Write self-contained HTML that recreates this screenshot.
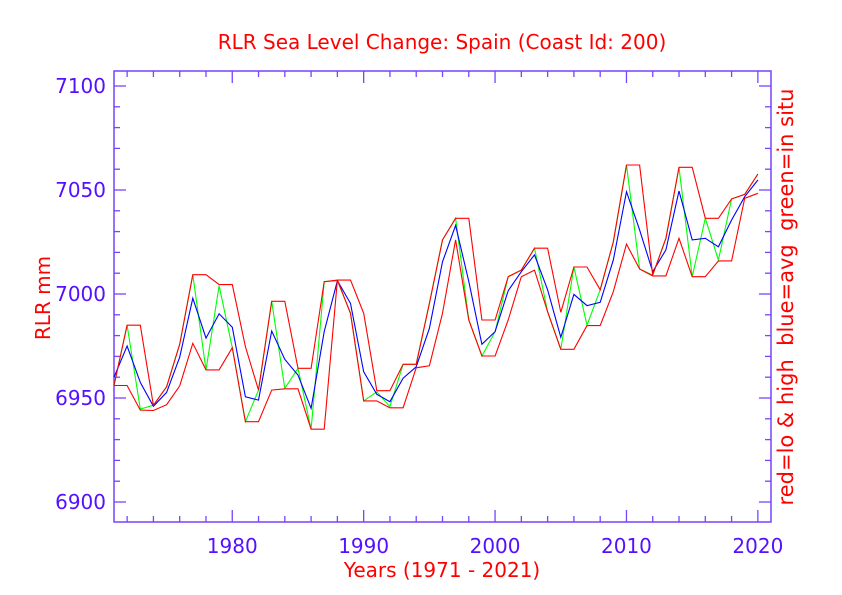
<!DOCTYPE html>
<html><head><meta charset="utf-8"><style>
html,body{margin:0;padding:0;background:#fff;}
svg{display:block;font-family:"DejaVu Sans","Liberation Sans",sans-serif;}
</style></head><body>
<svg id="chart" width="842" height="595" viewBox="0 0 842 595">
<rect x="0" y="0" width="842" height="595" fill="#fff"/>
<text x="442" y="49" text-anchor="middle" font-size="20" fill="#ff0000">RLR Sea Level Change: Spain (Coast Id: 200)</text>
<text x="442" y="577" text-anchor="middle" font-size="20" fill="#ff0000">Years (1971 - 2021)</text>
<text transform="translate(50,298) rotate(-90)" text-anchor="middle" font-size="20" fill="#ff0000">RLR mm</text>
<text transform="translate(793,297) rotate(-90)" text-anchor="middle" font-size="21" fill="#ff0000" style="white-space:pre" xml:space="preserve">red=lo &amp; high  blue=avg  green=in situ</text>
<g id="axes"></g>
<g id="series"></g>
</svg>
<script>
const years = [];
for (let y = 1971; y <= 2020; y++) years.push(y);
const highValues = [6956,6985,6985,6946.5,6955.4,6975.8,7009.3,7009.3,7004.5,7004.5,6974.7,6953.8,6996.5,6996.5,6964.3,6964.3,7005.9,7006.7,7006.7,6990.7,6953.5,6953.5,6966.2,6966.2,6995.5,7026,7036.4,7036.4,6987.5,6987.5,7008.3,7011.5,7022,7022,6991.2,7013,7013,7002,7025,7062,7062,7009.1,7026.8,7060.9,7060.9,7036.4,7036.4,7045.7,7047.9,7057.7];
const lowValues = [6956,6956,6944.2,6944,6946.8,6955.8,6976.3,6963.5,6963.5,6974.2,6938.6,6938.6,6953.8,6954.4,6954.4,6935,6935,7006.7,6990.7,6948.6,6948.6,6945.3,6945.3,6964.5,6965.5,6990.7,7026,6987.5,6970.2,6970.2,6987.5,7008.3,7011.5,6991.5,6973.4,6973.4,6984.8,6984.8,7001.1,7024,7012,7008.7,7008.7,7026.8,7008.3,7008.3,7015.9,7015.9,7046,7048.4];
const greenValues = [6956,6985,6944.7,6946.5,6955.4,6975.8,7009.3,6963.5,7004,6974.2,6938.6,6953.8,6996.5,6954.6,6964.3,6935,7005.9,7006.4,6990.7,6948.6,6953,6945.8,6966.2,6966.2,6995.5,7026,7036.4,6987.5,6970.2,6981.9,7008.3,7011.5,7022,6991.5,6973.4,7013,6985,7002,7025,7062,7012,7009.1,7026.8,7060.9,7008.3,7036.4,7016.3,7045.7,7047.9,7057.7];
const avgValues = [6960,6975,6957.5,6946,6952.7,6969.6,6998,6978.8,6990.5,6984,6950.6,6949,6982.2,6968.6,6961,6945,6981.9,7006.4,6995.5,6962.6,6951.8,6948.2,6959.5,6965,6983.5,7015.5,7033,7006,6975.8,6981.9,7001.6,7010.7,7018.8,7002,6979.2,6999.8,6994.4,6996,7016.3,7049.2,7030.8,7010.7,7021.2,7049.5,7026,7026.8,7022.7,7035.6,7046.8,7054.8];
const yTickValues = [6900,6950,7000,7050,7100];
const xTickValues = [1980,1990,2000,2010,2020];

const NS = "http://www.w3.org/2000/svg";
const L = 114, R = 771, T = 71, B = 522;
const X0 = 1971, X1 = 2021;
const Y0 = 7100 + (86 - T) / 2.08, Y1 = 6900 - (B - 502) / 2.08;
function xs(v){ return L + (v - X0) / (X1 - X0) * (R - L); }
function ys(v){ return T + (Y0 - v) / (Y0 - Y1) * (B - T); }
const axisColor = "#7744ff", labelColor = "#5511ff";
const axes = document.getElementById("axes");
function line(x1,y1,x2,y2,name){
  const l = document.createElementNS(NS,"line");
  l.setAttribute("x1",x1);l.setAttribute("y1",y1);l.setAttribute("x2",x2);l.setAttribute("y2",y2);
  l.setAttribute("stroke",axisColor);l.setAttribute("stroke-width","1.3");
  
  
  axes.appendChild(l);
}
const frame = document.createElementNS(NS,"rect");
frame.setAttribute("x",L);frame.setAttribute("y",T);frame.setAttribute("width",R-L);frame.setAttribute("height",B-T);
frame.setAttribute("fill","none");frame.setAttribute("stroke",axisColor);frame.setAttribute("stroke-width","1.5");


axes.appendChild(frame);
for (let v = 6900; v <= 7100; v += 10) {
  const major = v % 50 === 0, len = major ? 12 : 6, y = ys(v);
  line(L, y, L + len, y, 'y-tick');
  line(R, y, R - len, y, 'y-tick-right');
}
for (let v = 1972; v <= 2020; v += 2) {
  const major = v % 10 === 0, len = major ? 12 : 6, x = xs(v);
  line(x, B, x, B - len, 'x-tick');
  line(x, T, x, T + len, 'x-tick-top');
}
yTickValues.forEach(v => {
  const t = document.createElementNS(NS,"text");
  t.setAttribute("x", 106); t.setAttribute("y", ys(v) + 7);
  t.setAttribute("text-anchor","end"); t.setAttribute("font-size","20"); t.setAttribute("fill",labelColor);
  t.textContent = v;
  
  
  axes.appendChild(t);
});
xTickValues.forEach(v => {
  const t = document.createElementNS(NS,"text");
  t.setAttribute("x", xs(v)); t.setAttribute("y", 553);
  t.setAttribute("text-anchor","middle"); t.setAttribute("font-size","20"); t.setAttribute("fill",labelColor);
  t.textContent = v;
  
  
  axes.appendChild(t);
});
const series = document.getElementById("series");
function drawSeries(vals, color, name){
  const p = document.createElementNS(NS,"polyline");
  p.setAttribute("points", vals.map((v,i)=>xs(years[i]).toFixed(1)+","+ys(v).toFixed(1)).join(" "));
  p.setAttribute("fill","none"); p.setAttribute("stroke",color); p.setAttribute("stroke-width","1.1");
  
  
  series.appendChild(p);
}
drawSeries(greenValues, "#00ff00", 'in-situ-line');
drawSeries(avgValues, "#0000ff", 'average-line');
drawSeries(highValues, "#ff0000", 'high-line');
drawSeries(lowValues, "#ff0000", 'low-line');
</script>
</body></html>
